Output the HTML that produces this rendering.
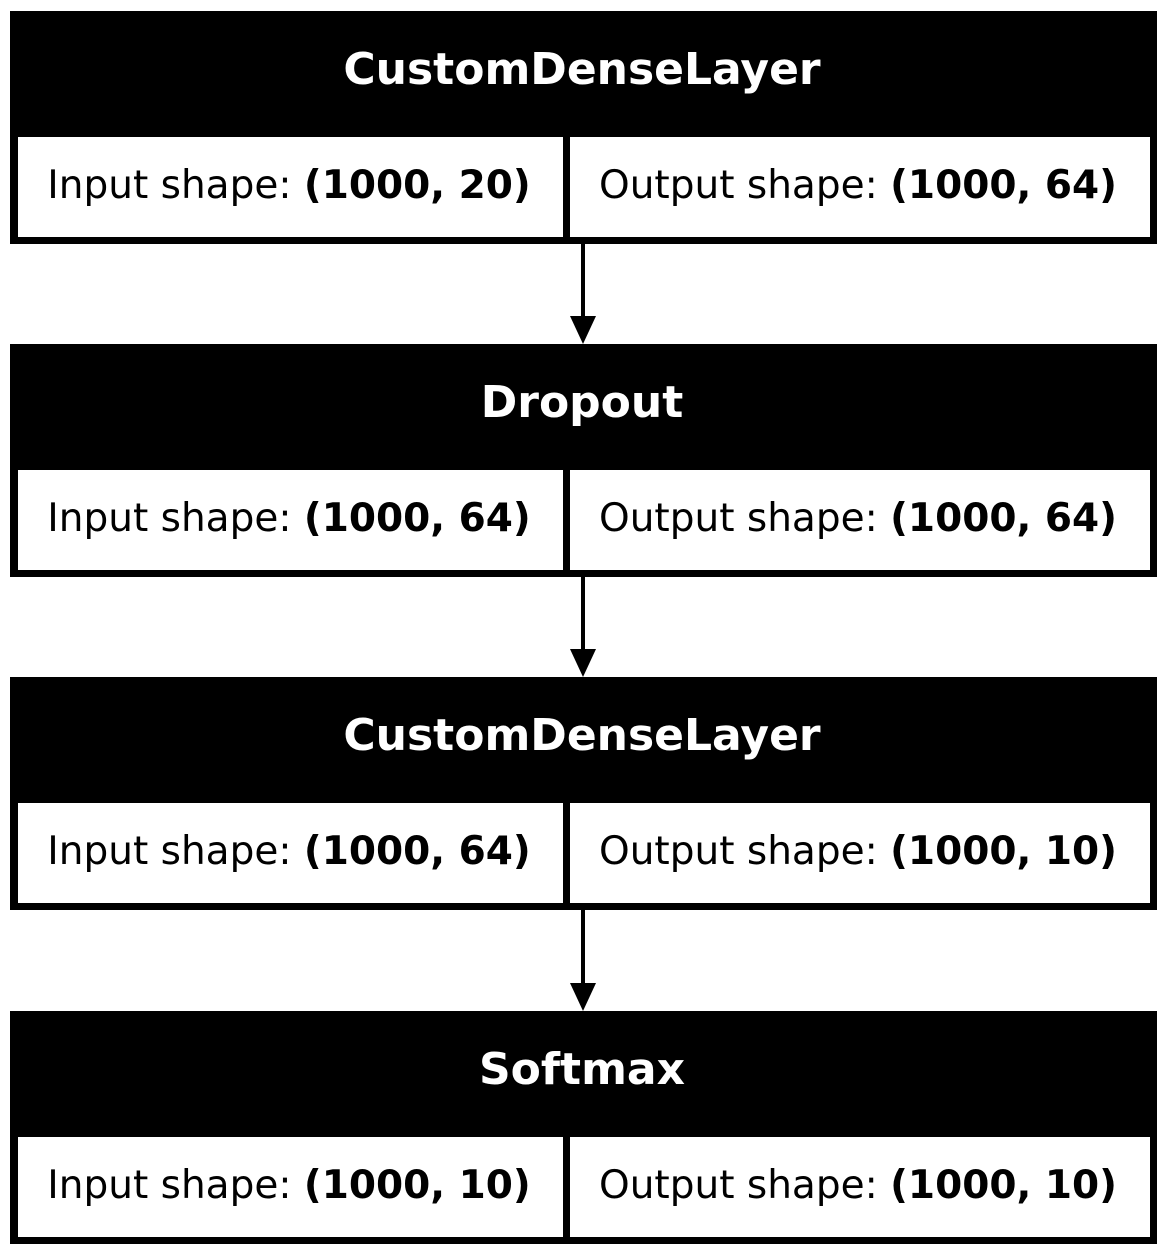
<!DOCTYPE html>
<html><head><meta charset="utf-8"><style>
html,body{margin:0;padding:0;background:#fff;}
svg{display:block;}
text{font-family:"DejaVu Sans","Liberation Sans",sans-serif;}
</style></head><body>
<svg width="1167" height="1256" viewBox="0 0 1167 1256" xmlns="http://www.w3.org/2000/svg">
<defs>
<g id="n">
<rect x="10" y="0" width="1147" height="233" fill="#000"/>
<rect x="18" y="126" width="545" height="100" fill="#fff"/>
<rect x="570" y="126" width="580" height="100" fill="#fff"/>
</g>
</defs>
<g font-size="39">
<g transform="translate(0,11)">
<use href="#n"/>
<text x="582" y="73" fill="#fff" font-weight="bold" font-size="44" text-anchor="middle">CustomDenseLayer</text>
<text x="289" y="187" text-anchor="middle">Input shape: <tspan font-weight="bold">(1000, 20)</tspan></text>
<text x="858" y="187" text-anchor="middle">Output shape: <tspan font-weight="bold">(1000, 64)</tspan></text>
</g>
<g transform="translate(0,344)">
<use href="#n"/>
<text x="582" y="73" fill="#fff" font-weight="bold" font-size="44" text-anchor="middle">Dropout</text>
<text x="289" y="187" text-anchor="middle">Input shape: <tspan font-weight="bold">(1000, 64)</tspan></text>
<text x="858" y="187" text-anchor="middle">Output shape: <tspan font-weight="bold">(1000, 64)</tspan></text>
</g>
<g transform="translate(0,677)">
<use href="#n"/>
<text x="582" y="73" fill="#fff" font-weight="bold" font-size="44" text-anchor="middle">CustomDenseLayer</text>
<text x="289" y="187" text-anchor="middle">Input shape: <tspan font-weight="bold">(1000, 64)</tspan></text>
<text x="858" y="187" text-anchor="middle">Output shape: <tspan font-weight="bold">(1000, 10)</tspan></text>
</g>
<g transform="translate(0,1011)">
<use href="#n"/>
<text x="582" y="73" fill="#fff" font-weight="bold" font-size="44" text-anchor="middle">Softmax</text>
<text x="289" y="187" text-anchor="middle">Input shape: <tspan font-weight="bold">(1000, 10)</tspan></text>
<text x="858" y="187" text-anchor="middle">Output shape: <tspan font-weight="bold">(1000, 10)</tspan></text>
</g>
</g>
<g fill="#000" stroke="#000">
<line x1="583" y1="244" x2="583" y2="318" stroke-width="4"/>
<polygon points="570,316 596,316 583,344" stroke="none"/>
<line x1="583" y1="577" x2="583" y2="651" stroke-width="4"/>
<polygon points="570,649 596,649 583,677" stroke="none"/>
<line x1="583" y1="910" x2="583" y2="985" stroke-width="4"/>
<polygon points="570,983 596,983 583,1011" stroke="none"/>
</g>
</svg>
</body></html>
